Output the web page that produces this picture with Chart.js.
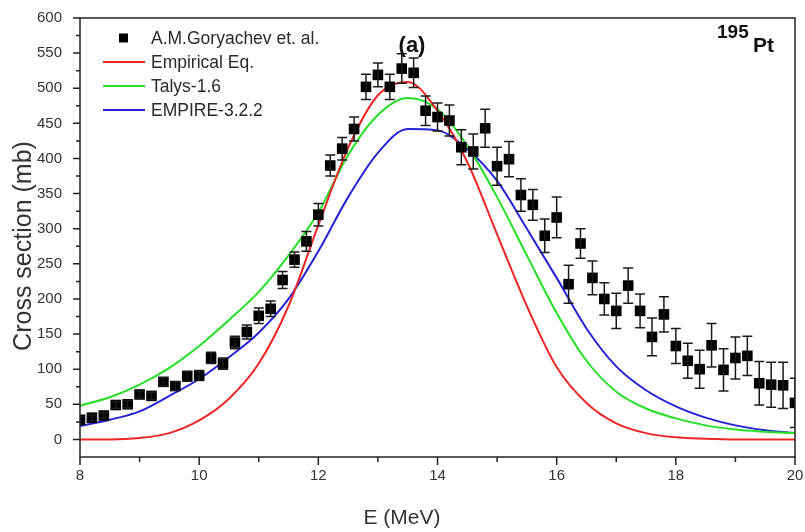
<!DOCTYPE html>
<html>
<head>
<meta charset="utf-8">
<script src="https://cdn.jsdelivr.net/npm/chart.js@4.4.0/dist/chart.umd.min.js"></script>
<style>
  html, body { margin: 0; padding: 0; background: #fff; }
  #wrap { width: 805px; height: 532px; }
</style>
</head>
<body>
<div id="wrap"><canvas id="chart"></canvas></div>
<script>
// measured cross sections (A.M.Goryachev et. al.), mb
const expE = [8.0, 8.2, 8.4, 8.6, 8.8, 9.0, 9.2, 9.4, 9.6, 9.8,
  10.0, 10.2, 10.4, 10.6, 10.8, 11.0, 11.2, 11.4, 11.6, 11.8,
  12.0, 12.2, 12.4, 12.6, 12.8, 13.0, 13.2, 13.4, 13.6, 13.8,
  14.0, 14.2, 14.4, 14.6, 14.8, 15.0, 15.2, 15.4, 15.6, 15.8,
  16.0, 16.2, 16.4, 16.6, 16.8, 17.0, 17.2, 17.4, 17.6, 17.8,
  18.0, 18.2, 18.4, 18.6, 18.8, 19.0, 19.2, 19.4, 19.6, 19.8, 20.0];
const expVal = [28, 31, 34, 49, 50, 64, 62, 82, 76, 90,
  91, 116, 108, 138, 153, 176, 186, 227, 256, 282,
  320, 390, 414, 442, 502, 519, 502, 528, 522, 468,
  459, 454, 416, 410, 443, 389, 399, 348, 334, 290,
  316, 221, 279, 230, 200, 183, 219, 183, 146, 178,
  133, 112, 100, 134, 99, 116, 119, 80, 78, 77, 52];
const expErr = [4, 4, 4, 5, 5, 5, 5, 6, 6, 7,
  7, 8, 8, 9, 10, 11, 11, 12, 11, 14,
  16, 15, 16, 17, 18, 17, 18, 21, 21, 21,
  20, 22, 25, 25, 27, 27, 25, 23, 22, 24,
  29, 27, 21, 24, 23, 25, 25, 24, 27, 25,
  25, 25, 27, 31, 30, 30, 28, 31, 32, 33, 35];

// calculated curves
const curveE = [8, 8.5, 9, 9.5, 10, 10.5, 11, 11.5, 12, 12.5, 13, 13.5,
  14, 14.5, 15, 15.5, 16, 16.5, 17, 17.5, 18, 18.5, 19, 19.5, 20];
const empirical = [0, 0, 2, 9, 27, 58, 108, 190, 305, 415, 490, 509,
  468, 395, 292, 190, 103, 52, 23, 9, 3, 1, 0, 0, 0];
const talys = [48, 60, 78, 102, 133, 170, 210, 262, 323, 405, 462, 486,
  470, 418, 345, 262, 180, 112, 68, 44, 30, 20, 14, 11, 9];
const empire = [19, 28, 40, 62, 86, 117, 152, 200, 268, 345, 408, 442,
  440, 413, 368, 300, 230, 158, 104, 70, 47, 31, 20, 13, 9];

const pts = (xs, ys) => xs.map((e, i) => ({ x: e, y: ys[i] }));
const FONT = "'Liberation Sans', Arial, sans-serif";

const extras = {
  id: 'extras',
  afterDatasetsDraw(chart) {
    const { ctx, chartArea: a, scales: { x, y } } = chart;
    ctx.save();
    ctx.beginPath();
    ctx.rect(a.left, a.top, a.right - a.left, a.bottom - a.top);
    ctx.clip();
    ctx.strokeStyle = '#1a1a1a';
    ctx.lineWidth = 1.5;
    expE.forEach((e, i) => {
      const px = x.getPixelForValue(e);
      const top = y.getPixelForValue(expVal[i] + expErr[i]);
      const bot = y.getPixelForValue(expVal[i] - expErr[i]);
      ctx.beginPath();
      ctx.moveTo(px, top); ctx.lineTo(px, bot);
      ctx.moveTo(px - 5, top); ctx.lineTo(px + 5, top);
      ctx.moveTo(px - 5, bot); ctx.lineTo(px + 5, bot);
      ctx.stroke();
    });
    ctx.restore();
  },
  afterDraw(chart) {
    const { ctx, chartArea: a, scales: { x, y } } = chart;
    ctx.save();
    // frame
    ctx.strokeStyle = '#222';
    ctx.lineWidth = 1.5;
    ctx.strokeRect(a.left, a.top, a.right - a.left, a.bottom - a.top);
    // ticks (major + minor, outward)
    ctx.beginPath();
    for (let v = 8; v <= 20; v += 1) {
      const px = x.getPixelForValue(v);
      ctx.moveTo(px, a.bottom);
      ctx.lineTo(px, a.bottom + (v % 2 === 0 ? 8 : 5));
    }
    for (let v = 0; v <= 600; v += 25) {
      const py = y.getPixelForValue(v);
      ctx.moveTo(a.left, py);
      ctx.lineTo(a.left - (v % 50 === 0 ? 7 : 4), py);
    }
    ctx.stroke();

    // legend
    const rows = [38, 62, 86, 110];
    ctx.font = '17.5px ' + FONT;
    ctx.textBaseline = 'middle';
    ctx.textAlign = 'left';
    chart.data.datasets.forEach((ds, i) => {
      const ry = rows[i];
      if (i === 0) {
        ctx.fillStyle = '#000';
        ctx.fillRect(119, ry - 4.5, 9, 9);
      } else {
        ctx.strokeStyle = ds.borderColor;
        ctx.lineWidth = 2;
        ctx.beginPath();
        ctx.moveTo(103, ry); ctx.lineTo(145, ry);
        ctx.stroke();
      }
      ctx.fillStyle = '#2a2a2a';
      ctx.fillText(ds.label, 151, ry + 1);
    });

    // panel label and nucleus
    ctx.fillStyle = '#111';
    ctx.font = 'bold 22px ' + FONT;
    ctx.textAlign = 'center';
    ctx.fillText('(a)', 412, 46);
    ctx.textAlign = 'left';
    ctx.textBaseline = 'alphabetic';
    ctx.font = 'bold 19px ' + FONT;
    ctx.fillText('195', 717, 38);
    ctx.font = 'bold 21px ' + FONT;
    ctx.fillText('Pt', 753, 52);

    // axis titles
    ctx.fillStyle = '#333';
    ctx.textAlign = 'center';
    ctx.textBaseline = 'middle';
    ctx.font = '21px ' + FONT;
    ctx.fillText('E (MeV)', 402, 518);
    ctx.translate(24, 246);
    ctx.rotate(-Math.PI / 2);
    ctx.font = '25px ' + FONT;
    ctx.fillText('Cross section (mb)', 0, 0);
    ctx.restore();
  }
};

new Chart(document.getElementById('chart'), {
  type: 'scatter',
  data: {
    datasets: [
      {
        label: 'A.M.Goryachev et. al.',
        data: pts(expE, expVal),
        pointStyle: 'rect',
        pointRadius: 7.5,
        pointBackgroundColor: '#000',
        pointBorderColor: '#000',
        pointBorderWidth: 0,
        showLine: false
      },
      {
        label: 'Empirical Eq.',
        data: pts(curveE, empirical),
        showLine: true,
        borderColor: 'rgb(236,38,38)',
        borderWidth: 2,
        pointRadius: 0,
        cubicInterpolationMode: 'monotone'
      },
      {
        label: 'Talys-1.6',
        data: pts(curveE, talys),
        showLine: true,
        borderColor: 'rgb(38,222,38)',
        borderWidth: 2,
        pointRadius: 0,
        cubicInterpolationMode: 'monotone'
      },
      {
        label: 'EMPIRE-3.2.2',
        data: pts(curveE, empire),
        showLine: true,
        borderColor: 'rgb(36,36,214)',
        borderWidth: 2,
        pointRadius: 0,
        cubicInterpolationMode: 'monotone'
      }
    ]
  },
  options: {
    responsive: true,
    maintainAspectRatio: false,
    animation: false,
    layout: { padding: { top: 18, right: 10, left: 0, bottom: 0 } },
    plugins: {
      legend: { display: false },
      tooltip: { enabled: false }
    },
    scales: {
      x: {
        type: 'linear',
        min: 8, max: 20,
        ticks: { stepSize: 2, padding: 10, color: '#333', font: { family: FONT, size: 15 } },
        grid: { display: false, drawTicks: false },
        border: { display: false },
        afterFit: s => { s.height = 75; s.paddingLeft = 0; s.paddingRight = 0; }
      },
      y: {
        min: -25, max: 600,
        ticks: { stepSize: 50, includeBounds: false, padding: 18, color: '#333', font: { family: FONT, size: 15 } },
        grid: { display: false, drawTicks: false },
        border: { display: false },
        afterFit: s => { s.width = 80; s.paddingTop = 0; s.paddingBottom = 0; }
      }
    }
  },
  plugins: [extras]
});
</script>
</body>
</html>
